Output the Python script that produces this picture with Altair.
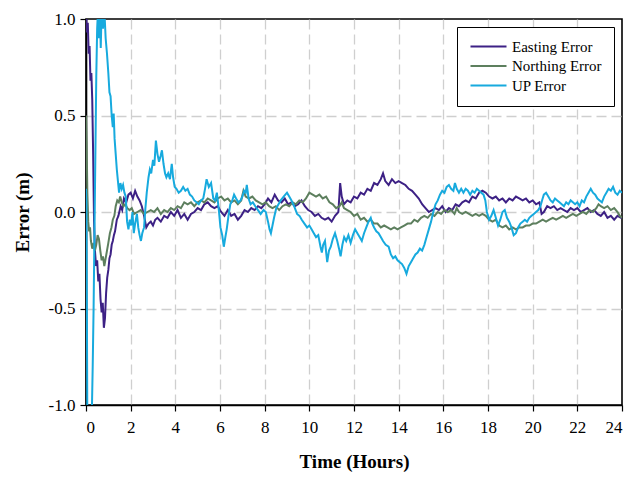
import altair as alt
import pandas as pd

SERIES = ["Easting Error", "Northing Error", "UP Error"]
COLORS = ["#3d2185", "#5d7f5e", "#17aade"]
X_TICKS = [0, 2, 4, 6, 8, 10, 12, 14, 16, 18, 20, 22, 24]
Y_TICKS = [-1.0, -0.5, 0.0, 0.5, 1.0]

EASTING = [
    (0, 1.05), (0.04, 0.93), (0.08, 0.98), (0.12, 0.82), (0.16, 0.86), (0.2, 0.68), (0.24, 0.72),
    (0.28, 0.58), (0.32, 0.3), (0.36, -0.05), (0.4, -0.2), (0.45, -0.28), (0.5, -0.25), (0.55, -0.36),
    (0.6, -0.32), (0.65, -0.45), (0.7, -0.52), (0.75, -0.47), (0.8, -0.6), (0.85, -0.55), (0.9, -0.42),
    (0.95, -0.34), (1.0, -0.3), (1.05, -0.24), (1.1, -0.22), (1.15, -0.17), (1.2, -0.15), (1.25, -0.12),
    (1.3, -0.1), (1.38, -0.04), (1.45, -0.02), (1.55, 0.03), (1.62, 0.01), (1.7, 0.07), (1.8, 0.05),
    (1.9, 0.09), (2.0, 0.1), (2.1, 0.07), (2.2, 0.11), (2.3, 0.08), (2.4, 0.06), (2.5, 0.03), (2.6, -0.02),
    (2.7, -0.08), (2.8, -0.06), (2.9, -0.05), (3.0, -0.07), (3.1, -0.04), (3.2, -0.03), (3.35, -0.05),
    (3.5, -0.02), (3.65, -0.03), (3.8, 0.0), (3.95, -0.02), (4.1, 0.01), (4.25, -0.03), (4.4, -0.01),
    (4.55, -0.04), (4.7, -0.01), (4.85, 0.0), (5.0, 0.02), (5.15, 0.01), (5.3, 0.04), (5.45, 0.05),
    (5.6, 0.03), (5.75, 0.02), (5.9, 0.03), (6.05, 0.0), (6.2, -0.02), (6.35, 0.01), (6.5, -0.02),
    (6.65, -0.01), (6.8, -0.04), (6.95, -0.02), (7.1, 0.01), (7.25, 0.0), (7.4, 0.02), (7.55, 0.01),
    (7.7, 0.03), (7.85, 0.02), (8.0, 0.04), (8.15, 0.07), (8.3, 0.05), (8.45, 0.09), (8.6, 0.06),
    (8.75, 0.05), (8.9, 0.07), (9.05, 0.04), (9.2, 0.05), (9.35, 0.03), (9.5, 0.04), (9.65, 0.06),
    (9.8, 0.03), (9.95, 0.01), (10.1, 0.0), (10.25, -0.02), (10.4, -0.01), (10.55, -0.03), (10.7, -0.04),
    (10.85, -0.03), (11.0, -0.05), (11.15, -0.02), (11.3, 0.0), (11.38, 0.15), (11.45, 0.08), (11.55, 0.04),
    (11.7, 0.06), (11.85, 0.05), (12.0, 0.08), (12.15, 0.07), (12.3, 0.1), (12.45, 0.09), (12.6, 0.12),
    (12.75, 0.11), (12.9, 0.15), (13.05, 0.14), (13.2, 0.17), (13.3, 0.2), (13.4, 0.16), (13.55, 0.14),
    (13.7, 0.17), (13.85, 0.15), (14.0, 0.16), (14.15, 0.15), (14.3, 0.14), (14.45, 0.12), (14.6, 0.11),
    (14.75, 0.09), (14.9, 0.07), (15.05, 0.04), (15.2, 0.02), (15.35, 0.0), (15.5, 0.01), (15.65, 0.02),
    (15.8, 0.01), (15.95, 0.03), (16.1, 0.0), (16.25, 0.02), (16.4, 0.01), (16.55, 0.04), (16.7, 0.03),
    (16.85, 0.05), (17.0, 0.06), (17.15, 0.05), (17.3, 0.08), (17.45, 0.07), (17.6, 0.1), (17.75, 0.11),
    (17.9, 0.1), (18.05, 0.08), (18.2, 0.07), (18.35, 0.08), (18.5, 0.06), (18.65, 0.07), (18.8, 0.05),
    (18.95, 0.07), (19.1, 0.06), (19.25, 0.08), (19.4, 0.07), (19.55, 0.06), (19.7, 0.07), (19.85, 0.05),
    (20.0, 0.06), (20.15, 0.04), (20.3, 0.05), (20.4, -0.01), (20.5, 0.0), (20.65, 0.03), (20.8, 0.02),
    (20.95, 0.03), (21.1, 0.01), (21.25, 0.02), (21.4, 0.01), (21.55, 0.0), (21.7, 0.02), (21.85, 0.01),
    (22.0, 0.02), (22.15, 0.0), (22.3, 0.01), (22.45, 0.02), (22.6, 0.0), (22.75, 0.01), (22.9, -0.01),
    (23.05, -0.02), (23.2, 0.0), (23.35, -0.03), (23.5, -0.02), (23.65, -0.04), (23.8, -0.02),
    (23.95, -0.03), (24.0, -0.03),
]

NORTHING = [
    (0, 0.5), (0.03, 0.35), (0.06, 0.1), (0.1, -0.05), (0.14, -0.1), (0.18, -0.08), (0.22, -0.15),
    (0.28, -0.19), (0.34, -0.16), (0.4, -0.2), (0.46, -0.17), (0.52, -0.12), (0.58, -0.14), (0.64, -0.2),
    (0.7, -0.25), (0.76, -0.23), (0.82, -0.28), (0.88, -0.24), (0.94, -0.2), (1.0, -0.16), (1.07, -0.11),
    (1.14, -0.08), (1.2, -0.04), (1.27, -0.02), (1.33, 0.03), (1.4, 0.06), (1.47, 0.05), (1.53, 0.08),
    (1.6, 0.05), (1.68, 0.03), (1.76, 0.04), (1.85, 0.02), (1.95, 0.01), (2.05, 0.02), (2.15, -0.01),
    (2.3, 0.0), (2.45, 0.01), (2.6, -0.01), (2.75, 0.0), (2.9, 0.01), (3.05, 0.0), (3.2, 0.02),
    (3.35, -0.01), (3.5, 0.01), (3.65, 0.0), (3.8, 0.02), (3.95, 0.01), (4.1, 0.03), (4.25, 0.02),
    (4.4, 0.05), (4.55, 0.04), (4.7, 0.05), (4.85, 0.03), (5.0, 0.05), (5.15, 0.06), (5.3, 0.05),
    (5.45, 0.07), (5.6, 0.06), (5.75, 0.05), (5.9, 0.07), (6.05, 0.08), (6.2, 0.06), (6.35, 0.07),
    (6.5, 0.05), (6.65, 0.06), (6.8, 0.04), (6.95, 0.06), (7.05, 0.11), (7.15, 0.08), (7.3, 0.07),
    (7.45, 0.08), (7.6, 0.06), (7.75, 0.05), (7.9, 0.04), (8.05, 0.05), (8.2, 0.03), (8.35, 0.02),
    (8.5, 0.03), (8.65, 0.01), (8.8, 0.03), (8.95, 0.04), (9.1, 0.03), (9.25, 0.05), (9.4, 0.04),
    (9.55, 0.06), (9.7, 0.05), (9.85, 0.07), (10.0, 0.1), (10.15, 0.09), (10.3, 0.08), (10.45, 0.09),
    (10.6, 0.07), (10.75, 0.08), (10.9, 0.05), (11.05, 0.04), (11.2, 0.02), (11.35, 0.03), (11.45, 0.05),
    (11.55, 0.02), (11.7, 0.01), (11.85, 0.0), (12.0, -0.02), (12.15, -0.01), (12.3, -0.04), (12.45, -0.03),
    (12.6, -0.05), (12.75, -0.04), (12.9, -0.06), (13.05, -0.06), (13.2, -0.08), (13.35, -0.07),
    (13.5, -0.08), (13.65, -0.09), (13.8, -0.08), (13.95, -0.09), (14.1, -0.08), (14.25, -0.07),
    (14.4, -0.06), (14.55, -0.06), (14.7, -0.04), (14.85, -0.05), (15.0, -0.03), (15.15, -0.02),
    (15.3, -0.03), (15.45, -0.01), (15.6, -0.02), (15.75, 0.0), (15.9, -0.01), (16.05, 0.01), (16.2, 0.0),
    (16.35, 0.01), (16.5, -0.01), (16.6, 0.02), (16.7, 0.0), (16.85, -0.01), (17.0, 0.0), (17.15, -0.01),
    (17.3, -0.02), (17.45, -0.01), (17.6, -0.02), (17.75, -0.01), (17.9, -0.02), (18.05, -0.04),
    (18.2, -0.05), (18.35, -0.04), (18.5, -0.07), (18.65, -0.08), (18.8, -0.07), (18.95, -0.09),
    (19.1, -0.08), (19.25, -0.09), (19.4, -0.08), (19.55, -0.08), (19.7, -0.07), (19.85, -0.07),
    (20.0, -0.06), (20.15, -0.06), (20.3, -0.05), (20.45, -0.04), (20.6, -0.05), (20.75, -0.04),
    (20.9, -0.03), (21.05, -0.04), (21.2, -0.03), (21.35, -0.02), (21.5, -0.03), (21.65, -0.02),
    (21.8, -0.01), (21.95, -0.02), (22.1, -0.01), (22.25, 0.0), (22.4, -0.01), (22.55, 0.01), (22.7, 0.0),
    (22.85, 0.02), (22.95, 0.04), (23.05, 0.03), (23.2, 0.02), (23.35, 0.03), (23.5, 0.01), (23.65, 0.02),
    (23.8, 0.0), (23.9, -0.02), (24.0, -0.03),
]

UP = [
    (0, 0.12), (0.02, 0.05), (0.04, -0.5), (0.06, -1.1), (0.2, -1.1), (0.26, -1.05), (0.3, -0.8),
    (0.34, -0.5), (0.38, -0.1), (0.42, 0.3), (0.46, 0.7), (0.5, 0.95), (0.54, 1.05), (0.58, 0.9),
    (0.62, 1.05), (0.66, 0.85), (0.7, 1.05), (0.76, 0.95), (0.82, 1.05), (0.88, 0.9), (0.94, 0.82),
    (1.0, 0.72), (1.05, 0.62), (1.1, 0.6), (1.15, 0.5), (1.2, 0.44), (1.24, 0.51), (1.28, 0.38),
    (1.33, 0.3), (1.38, 0.22), (1.43, 0.16), (1.48, 0.1), (1.54, 0.15), (1.6, 0.12), (1.66, 0.14),
    (1.72, 0.1), (1.78, 0.08), (1.84, -0.05), (1.9, -0.09), (1.96, -0.04), (2.02, -0.07), (2.08, 0.0),
    (2.14, -0.11), (2.2, -0.06), (2.28, -0.01), (2.34, -0.08), (2.4, -0.12), (2.46, -0.15), (2.52, -0.11),
    (2.6, -0.08), (2.66, 0.02), (2.72, 0.1), (2.8, 0.18), (2.86, 0.22), (2.92, 0.2), (3.0, 0.27),
    (3.06, 0.24), (3.13, 0.37), (3.2, 0.3), (3.27, 0.26), (3.34, 0.29), (3.4, 0.32), (3.47, 0.25),
    (3.54, 0.2), (3.6, 0.18), (3.68, 0.2), (3.76, 0.17), (3.84, 0.25), (3.9, 0.18), (3.97, 0.13),
    (4.05, 0.12), (4.15, 0.1), (4.25, 0.11), (4.35, 0.13), (4.45, 0.11), (4.55, 0.12), (4.65, 0.09),
    (4.75, 0.08), (4.85, 0.06), (4.95, 0.05), (5.05, 0.04), (5.15, 0.06), (5.25, 0.07), (5.33, 0.12),
    (5.4, 0.17), (5.5, 0.13), (5.6, 0.15), (5.7, 0.07), (5.78, 0.06), (5.86, 0.1), (5.94, 0.02),
    (6.02, -0.08), (6.1, -0.12), (6.17, -0.18), (6.24, -0.13), (6.3, -0.09), (6.38, -0.02), (6.46, 0.04),
    (6.55, 0.06), (6.63, 0.09), (6.72, 0.07), (6.82, 0.05), (6.92, 0.06), (7.0, 0.08), (7.08, 0.11),
    (7.15, 0.1), (7.2, 0.14), (7.28, 0.07), (7.37, 0.04), (7.47, 0.05), (7.58, 0.03), (7.7, 0.01),
    (7.82, -0.01), (7.95, 0.01), (8.05, 0.0), (8.15, -0.05), (8.22, -0.09), (8.28, -0.11), (8.35, -0.07),
    (8.42, -0.03), (8.52, 0.02), (8.62, 0.04), (8.72, 0.06), (8.85, 0.08), (9.0, 0.1), (9.1, 0.08),
    (9.2, 0.06), (9.32, 0.03), (9.45, -0.01), (9.56, -0.02), (9.66, -0.04), (9.78, -0.06), (9.9, -0.08),
    (10.0, -0.07), (10.1, -0.09), (10.2, -0.11), (10.3, -0.13), (10.4, -0.12), (10.5, -0.18),
    (10.56, -0.21), (10.62, -0.17), (10.7, -0.15), (10.8, -0.26), (10.88, -0.2), (10.96, -0.18),
    (11.05, -0.14), (11.15, -0.11), (11.25, -0.15), (11.33, -0.19), (11.4, -0.23), (11.48, -0.17),
    (11.56, -0.13), (11.65, -0.15), (11.75, -0.12), (11.85, -0.16), (11.95, -0.12), (12.05, -0.09),
    (12.15, -0.11), (12.25, -0.13), (12.35, -0.15), (12.45, -0.11), (12.55, -0.08), (12.65, -0.05),
    (12.75, -0.03), (12.82, -0.06), (12.9, -0.08), (13.0, -0.1), (13.1, -0.11), (13.2, -0.13),
    (13.3, -0.15), (13.42, -0.17), (13.55, -0.18), (13.65, -0.22), (13.75, -0.24), (13.85, -0.23),
    (13.95, -0.25), (14.05, -0.26), (14.15, -0.27), (14.25, -0.29), (14.35, -0.32), (14.45, -0.28),
    (14.55, -0.26), (14.65, -0.24), (14.75, -0.22), (14.85, -0.21), (14.95, -0.19), (15.05, -0.2),
    (15.15, -0.17), (15.25, -0.13), (15.35, -0.09), (15.45, -0.05), (15.55, 0.0), (15.65, 0.04),
    (15.75, 0.06), (15.85, 0.09), (15.95, 0.11), (16.05, 0.1), (16.15, 0.13), (16.25, 0.14),
    (16.35, 0.12), (16.45, 0.11), (16.52, 0.15), (16.6, 0.12), (16.7, 0.1), (16.8, 0.12), (16.9, 0.1),
    (17.0, 0.12), (17.1, 0.11), (17.2, 0.09), (17.3, 0.11), (17.4, 0.1), (17.5, 0.12), (17.6, 0.11),
    (17.7, 0.1), (17.8, 0.09), (17.88, 0.06), (17.95, 0.0), (18.05, -0.04), (18.15, -0.02), (18.25, 0.01),
    (18.35, -0.03), (18.45, -0.07), (18.55, -0.04), (18.65, 0.0), (18.75, 0.01), (18.85, -0.03),
    (18.95, -0.05), (19.05, -0.08), (19.15, -0.12), (19.25, -0.11), (19.35, -0.08), (19.45, -0.06),
    (19.55, -0.05), (19.65, -0.04), (19.75, -0.05), (19.85, -0.03), (19.95, -0.02), (20.05, -0.01),
    (20.15, 0.0), (20.25, 0.01), (20.35, 0.03), (20.42, 0.06), (20.5, 0.09), (20.6, 0.1), (20.7, 0.08),
    (20.8, 0.06), (20.9, 0.05), (21.0, 0.07), (21.1, 0.06), (21.2, 0.05), (21.3, 0.04), (21.4, 0.03),
    (21.5, 0.05), (21.6, 0.04), (21.7, 0.06), (21.8, 0.05), (21.9, 0.04), (22.0, 0.05), (22.1, 0.03),
    (22.2, 0.06), (22.3, 0.05), (22.4, 0.08), (22.5, 0.1), (22.6, 0.12), (22.7, 0.1), (22.8, 0.09),
    (22.9, 0.07), (23.0, 0.06), (23.1, 0.05), (23.2, 0.08), (23.3, 0.1), (23.4, 0.12), (23.5, 0.11),
    (23.6, 0.13), (23.7, 0.1), (23.8, 0.09), (23.9, 0.11), (24.0, 0.1),
]

rows = []
for name, pts in zip(SERIES, [EASTING, NORTHING, UP]):
    for i, (t, v) in enumerate(pts):
        rows.append({"series": name, "order": i, "t": t, "v": v})
df = pd.DataFrame(rows)

FONT = "Liberation Serif"

x_grid_op = {"condition": {"test": "datum.value == 0 || datum.value == 24", "value": 0}, "value": 1}
y_grid_op = {"condition": {"test": "datum.value == 1 || datum.value == -1", "value": 0}, "value": 1}

chart = (
    alt.Chart(df)
    .mark_line(strokeWidth=2, clip=True)
    .encode(
        x=alt.X(
            "t:Q",
            scale=alt.Scale(domain=[0, 24], nice=False),
            axis=alt.Axis(values=X_TICKS, title="Time (Hours)", format="d", gridOpacity=x_grid_op),
        ),
        y=alt.Y(
            "v:Q",
            scale=alt.Scale(domain=[-1, 1], nice=False),
            axis=alt.Axis(
                values=Y_TICKS,
                title="Error (m)",
                labelExpr="replace(format(datum.value, '.1f'), '\u2212', '-')",
                gridOpacity=y_grid_op,
            ),
        ),
        color=alt.Color(
            "series:N",
            scale=alt.Scale(domain=SERIES, range=COLORS),
            legend=alt.Legend(
                title=None,
                orient="none",
                legendX=371,
                legendY=8,
                symbolType="M-1,0H5",
                symbolSize=144,
                symbolStrokeWidth=2,
                labelFont=FONT,
                labelFontSize=15,
                labelColor="black",
                labelOffset=28,
                rowPadding=3.5,
                padding=12,
                strokeColor="black",
                fillColor="white",
                cornerRadius=0,
            ),
        ),
        order="order:Q",
        detail="series:N",
    )
    .properties(
        width=536,
        height=386,
        autosize=alt.AutoSizeParams(type="none"),
        padding={"left": 86, "top": 19, "right": 11, "bottom": 73},
    )
    .configure_view(stroke="black", strokeWidth=1.6)
    .configure_axis(
        labelFont=FONT,
        labelFontSize=17,
        labelColor="black",
        titleFont=FONT,
        titleFontSize=19,
        titleFontWeight="bold",
        titleColor="black",
        domainColor="black",
        domainWidth=1.6,
        tickColor="black",
        tickSize=6,
        tickWidth=1.2,
        grid=True,
        gridColor="#cfcfcf",
        gridDash=[10, 5],
        gridWidth=1.3,
    )
    .configure_axisX(labelPadding=8, titlePadding=17)
    .configure_axisY(labelPadding=5, titlePadding=16)
)

chart.save("out.html", embed_options={"renderer": "svg", "actions": False})
